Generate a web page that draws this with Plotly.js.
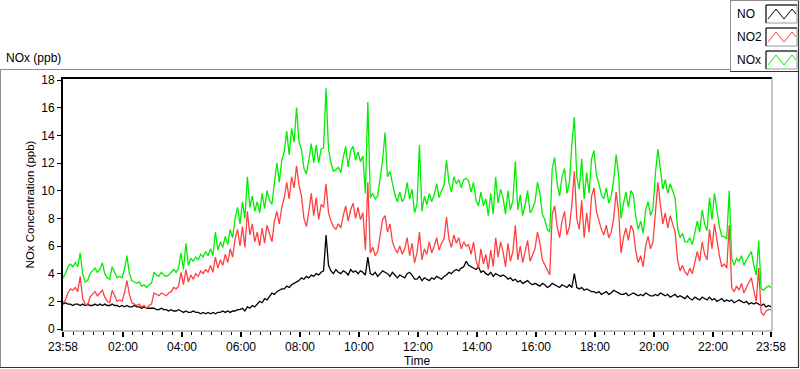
<!DOCTYPE html>
<html>
<head>
<meta charset="utf-8">
<script src="https://cdn.plot.ly/plotly-3.0.1.min.js"></script>
<style>html,body{margin:0;padding:0;background:#fff;}#chart{width:800px;height:369px;}</style>
</head>
<body>
<div id="chart"></div>
<script>
// 5-minute samples from 23:58 to 23:58 next day (289 points)
const startLabel = '23:58';
const stepMinutes = 5;

const NO = [
1.8,1.9,1.8,1.8,1.7,1.8,1.8,1.7,1.8,1.7,1.8,1.7,
1.7,1.8,1.7,1.8,1.7,1.8,1.7,1.7,1.8,1.7,1.7,1.6,
1.7,1.6,1.7,1.6,1.6,1.7,1.6,1.6,1.5,1.6,1.5,1.5,
1.5,1.5,1.4,1.4,1.5,1.4,1.4,1.3,1.4,1.3,1.3,1.4,
1.3,1.2,1.3,1.2,1.2,1.3,1.2,1.2,1.1,1.2,1.1,1.2,
1.1,1.2,1.1,1.2,1.2,1.3,1.2,1.3,1.2,1.3,1.3,1.4,
1.4,1.5,1.3,1.6,1.5,1.7,1.6,1.8,2.0,1.9,2.2,2.1,
2.4,2.6,2.5,2.7,2.8,2.9,2.9,3.1,3.0,3.2,3.3,3.4,
3.5,3.7,3.6,3.8,3.7,3.9,3.8,4.0,3.9,4.1,4.2,6.8,
4.6,4.2,4.0,4.3,4.1,4.0,4.2,4.1,3.9,4.3,4.1,4.2,
4.0,4.2,4.1,3.9,5.2,4.0,3.9,4.1,3.8,4.0,4.2,4.1,
4.0,3.8,4.1,3.9,3.7,3.9,3.8,3.7,4.0,4.1,3.9,3.6,
3.6,3.8,3.5,3.7,3.6,3.5,3.7,3.6,3.8,3.7,3.6,3.8,
3.9,4.1,4.0,4.2,4.3,4.2,4.4,4.5,4.9,4.6,4.5,4.4,
4.3,4.5,4.1,4.2,4.0,3.9,4.1,3.8,4.0,3.9,3.8,3.9,
3.8,3.6,3.7,3.5,3.6,3.4,3.5,3.3,3.4,3.5,3.3,3.2,
3.3,3.2,3.1,3.3,3.2,3.0,3.1,3.3,3.2,3.1,3.0,3.2,
3.1,3.0,3.2,3.0,4.0,3.0,2.9,3.0,2.8,2.9,2.8,2.7,
2.7,2.6,2.7,2.5,2.6,2.7,2.5,2.6,2.8,2.7,2.6,2.5,
2.5,2.6,2.4,2.5,2.6,2.5,2.4,2.5,2.4,2.6,2.5,2.4,
2.4,2.5,2.4,2.6,2.5,2.4,2.5,2.3,2.4,2.5,2.3,2.4,
2.3,2.2,2.4,2.2,2.1,2.3,2.2,2.1,2.3,2.2,2.1,2.3,
2.1,2.2,2.0,2.1,2.2,2.0,2.1,2.0,2.1,1.9,2.0,2.1,
2.0,1.9,2.0,1.8,1.9,1.8,1.9,1.8,1.7,1.8,1.6,1.7,1.6
];

const NO2 = [
1.9,2.1,2.6,2.9,2.8,3.0,2.7,3.8,2.2,1.8,1.7,2.3,
2.5,2.7,2.4,2.6,2.8,2.3,2.0,1.9,2.8,2.4,2.0,2.1,
2.0,2.6,3.5,2.5,1.9,1.8,1.7,1.8,1.6,1.7,1.5,1.7,
1.8,2.6,2.5,2.4,2.6,2.5,2.4,2.6,2.7,3.0,2.9,3.1,
4.1,3.2,4.3,3.4,3.9,3.6,4.0,3.8,4.2,4.0,4.3,4.1,
4.6,4.1,5.2,4.4,5.0,4.6,5.4,4.8,5.8,5.2,6.5,7.2,
6.0,7.4,5.9,8.5,6.8,7.6,6.3,7.0,6.0,7.3,6.2,7.5,
6.8,6.3,7.8,8.5,7.6,8.8,9.5,10.6,9.4,11.0,10.2,11.8,
10.4,9.6,8.0,7.4,8.5,9.8,8.2,9.5,7.9,9.0,8.8,10.5,
8.4,7.8,7.4,7.2,7.6,7.3,8.2,8.9,7.8,8.6,9.1,8.0,
8.8,7.9,8.4,5.7,10.6,5.5,5.9,5.3,5.6,6.8,7.9,8.2,
7.0,7.6,6.3,5.8,5.5,6.0,5.4,5.8,6.6,5.3,6.2,4.8,
5.5,7.0,5.0,5.8,5.4,6.3,5.5,6.0,6.6,5.7,6.2,6.5,
8.1,6.5,5.9,6.8,6.2,6.6,5.8,6.3,6.0,6.1,5.4,6.3,
5.0,4.4,5.8,4.7,5.4,4.3,5.7,4.5,6.6,5.2,6.3,5.6,
4.5,6.2,4.9,5.6,7.5,5.0,6.0,4.8,5.5,6.4,4.9,5.3,
5.8,7.0,6.2,5.0,4.6,4.2,3.9,8.3,8.9,7.4,6.6,7.8,
8.5,6.8,7.4,9.0,11.4,8.0,7.2,9.3,6.6,8.4,7.0,9.6,
10.2,8.5,7.8,7.2,6.8,7.5,6.6,7.0,8.0,9.9,8.5,5.5,
6.6,7.3,6.4,7.5,7.1,5.6,4.8,5.3,4.5,6.0,6.7,5.8,
6.3,8.8,10.6,9.0,7.6,8.4,7.3,8.2,7.6,7.0,5.0,4.2,
4.6,4.1,3.9,4.4,4.0,4.8,5.6,4.9,6.3,5.4,5.0,7.2,
5.8,7.6,6.4,5.3,4.5,4.7,4.4,7.5,3.0,2.7,3.1,2.8,
3.3,2.6,3.0,3.4,3.7,2.8,2.0,4.4,1.2,1.0,1.3,1.4,1.4
];

const NOx = [
3.7,4.0,4.5,4.7,4.5,4.8,4.5,5.5,4.0,3.4,3.5,4.0,
4.2,4.4,4.1,4.3,4.8,4.0,3.7,3.6,4.5,4.1,3.7,3.8,
3.7,4.3,5.3,4.0,3.5,3.4,3.3,3.4,3.1,3.2,3.0,3.2,
3.3,4.1,3.9,3.8,4.1,3.9,3.8,3.9,4.1,4.3,4.1,4.4,
5.5,4.3,6.2,4.6,5.1,4.9,5.2,5.0,5.4,5.2,5.6,5.3,
5.8,5.3,7.0,5.7,6.3,5.9,6.7,6.1,7.2,6.6,8.0,8.8,
7.6,9.2,8.0,11.0,8.8,9.6,8.5,9.2,8.4,9.8,8.7,10.0,
9.3,9.0,10.6,12.0,10.6,12.2,12.8,14.3,12.6,14.5,13.5,16.0,
13.5,13.0,11.6,11.2,12.2,13.4,12.0,13.3,12.0,13.0,13.1,17.4,
13.0,12.0,11.4,11.5,11.7,11.3,12.4,13.2,11.7,12.9,13.2,12.2,
12.8,12.1,12.5,9.8,16.4,9.5,9.8,9.4,9.6,10.8,12.2,14.2,
11.0,11.4,10.4,9.7,9.2,9.9,9.2,9.5,10.6,9.4,10.1,8.4,
9.0,13.3,8.5,9.6,9.0,9.8,9.2,9.7,10.5,9.5,10.0,10.4,
12.2,10.6,9.9,11.0,10.5,10.8,10.2,10.8,10.9,10.7,9.9,10.6,
9.3,8.9,9.9,8.9,9.4,8.2,9.8,8.3,11.0,9.1,10.1,9.5,
8.3,10.0,8.6,9.3,12.1,8.6,9.7,8.2,9.0,10.0,8.4,8.7,
9.2,10.6,9.8,8.3,7.9,7.2,7.0,11.6,12.4,10.5,9.6,11.0,
11.6,9.8,10.6,13.4,15.3,11.0,10.1,12.3,9.4,11.3,9.8,12.3,
12.9,11.1,10.5,9.7,9.4,10.2,9.1,9.6,10.8,12.6,11.1,8.0,
9.1,9.9,8.8,10.0,9.7,8.1,7.2,7.8,6.9,8.6,9.2,8.2,
8.7,11.3,13.0,11.6,10.1,10.8,9.8,10.5,10.0,9.5,7.3,6.6,
6.9,6.3,6.3,6.6,6.1,7.1,7.8,7.0,8.6,7.6,7.1,9.5,
7.9,9.8,8.4,7.4,6.7,6.7,6.5,10.0,5.1,4.6,5.1,4.9,
5.3,4.6,5.0,5.3,5.6,4.6,3.9,6.4,2.9,2.8,3.0,3.1,3.0
];

const tickLabels = ['23:58','02:00','04:00','06:00','08:00','10:00','12:00','14:00','16:00','18:00','20:00','22:00','23:58'];
const yTicks = [0,2,4,6,8,10,12,14,16,18];
const seriesNames = ['NO','NO2','NOx'];
const seriesColors = ['#000000','#ff4040','#00ee00'];

// time axis
const t0 = Date.UTC(2024,0,1,23,58);
function fmt(ms){ return new Date(ms).toISOString().replace('T',' ').slice(0,19); }
const times = NO.map((_, i) => fmt(t0 + i*stepMinutes*60000));
const tEnd = fmt(t0 + 24*3600000);
const tickVals = [fmt(t0)];
for (let h = 2; h <= 22; h += 2) tickVals.push(fmt(Date.UTC(2024,0,2,h,0)));
tickVals.push(tEnd);

// pixel helpers for decoration
const L = 63, R = 771, T = 78, B = 331;
const px = x => (x - L) / (R - L);
const py = y => (B - y) / (B - T);
function line(x0,y0,x1,y1,color,w){
  return {type:'line', xref:'paper', yref:'paper', x0:px(x0), y0:py(y0), x1:px(x1), y1:py(y1), line:{color:color, width:w}};
}
const shapes = [
  // outer frame
  line(0,69.5,731,69.5,'#8c8c8c',1),
  line(0.5,69,0.5,368,'#8c8c8c',1),
  line(0,367.5,799,367.5,'#333333',1.2),
  line(798.5,0,798.5,368,'#333333',1.2),
  // legend box
  line(730.5,0,730.5,72,'#8c8c8c',1),
  line(730,0.5,799,0.5,'#8c8c8c',1),
  line(730,71.5,799,71.5,'#333333',1.2),
  // plot frame
  line(62,78,772,78,'#000000',2),
  line(62,77,62,331,'#000000',2),
  line(772,78,772,331,'#8c8c8c',1),
  line(62,331,772,331,'#8c8c8c',1)
];
const annotations = [
  {text:'NOx (ppb)', xref:'paper', yref:'paper', x:px(4), y:py(58), xanchor:'left', yanchor:'middle', showarrow:false, font:{size:12}}
];
const rowsY = [14, 37, 60];
seriesNames.forEach((nm, k) => {
  const cy = rowsY[k];
  annotations.push({text:nm, xref:'paper', yref:'paper', x:px(735), y:py(cy), xanchor:'left', yanchor:'middle', showarrow:false, font:{size:12}});
  const y0 = cy - 9, y1 = cy + 9;
  shapes.push({type:'rect', xref:'paper', yref:'paper', x0:px(766), x1:px(797), y0:py(y1), y1:py(y0), fillcolor:'#ffffff', line:{color:'#9a9a9a', width:1}});
  shapes.push(line(766,y0,797,y0,'#000000',1));
  shapes.push(line(766,y0,766,y1,'#000000',1));
  const pts = [[768,cy+5],[776,cy-5],[784,cy+5],[792,cy-5],[796,cy]];
  const path = 'M' + pts.map(p => px(p[0]) + ',' + py(p[1])).join(' L');
  shapes.push({type:'path', xref:'paper', yref:'paper', path:path, line:{color:seriesColors[k], width:1}});
});

const data = [NO, NO2, NOx].map((ys, k) => ({
  x: times, y: ys, type:'scatter', mode:'lines', name: seriesNames[k],
  line:{color: seriesColors[k], width:1.3}, showlegend:false, hoverinfo:'skip'
}));

const layout = {
  width:800, height:369,
  margin:{l:L, r:800-R, t:T, b:369-B, pad:0},
  paper_bgcolor:'#ffffff', plot_bgcolor:'#ffffff',
  font:{family:'Liberation Sans, Arial, sans-serif', size:11, color:'#000000'},
  showlegend:false,
  xaxis:{
    type:'date', range:[fmt(t0), tEnd], showgrid:false, zeroline:false, showline:false,
    tickmode:'array', tickvals:tickVals, ticktext:tickLabels,
    ticks:'outside', ticklen:5, tickwidth:2, tickcolor:'#000000',
    tickfont:{size:12},
    minor:{tickmode:'linear', tick0:'2024-01-02 00:00:00', dtick:1200000, ticks:'outside', ticklen:3, tickwidth:1, tickcolor:'#000000', showgrid:false},
    title:{text:'Time', standoff:3, font:{size:12}}
  },
  yaxis:{
    range:[-2/13.833, 18 + 2/13.833], showgrid:false, zeroline:false, showline:false,
    tickmode:'array', tickvals:yTicks,
    ticks:'outside', ticklen:5, tickwidth:1, tickcolor:'#000000',
    tickfont:{size:12},
    title:{text:'NOx Concentration (ppb)', standoff:4, font:{size:11.5}}
  },
  shapes: shapes,
  annotations: annotations
};

Plotly.newPlot('chart', data, layout, {displayModeBar:false, staticPlot:true});
</script>
</body>
</html>
